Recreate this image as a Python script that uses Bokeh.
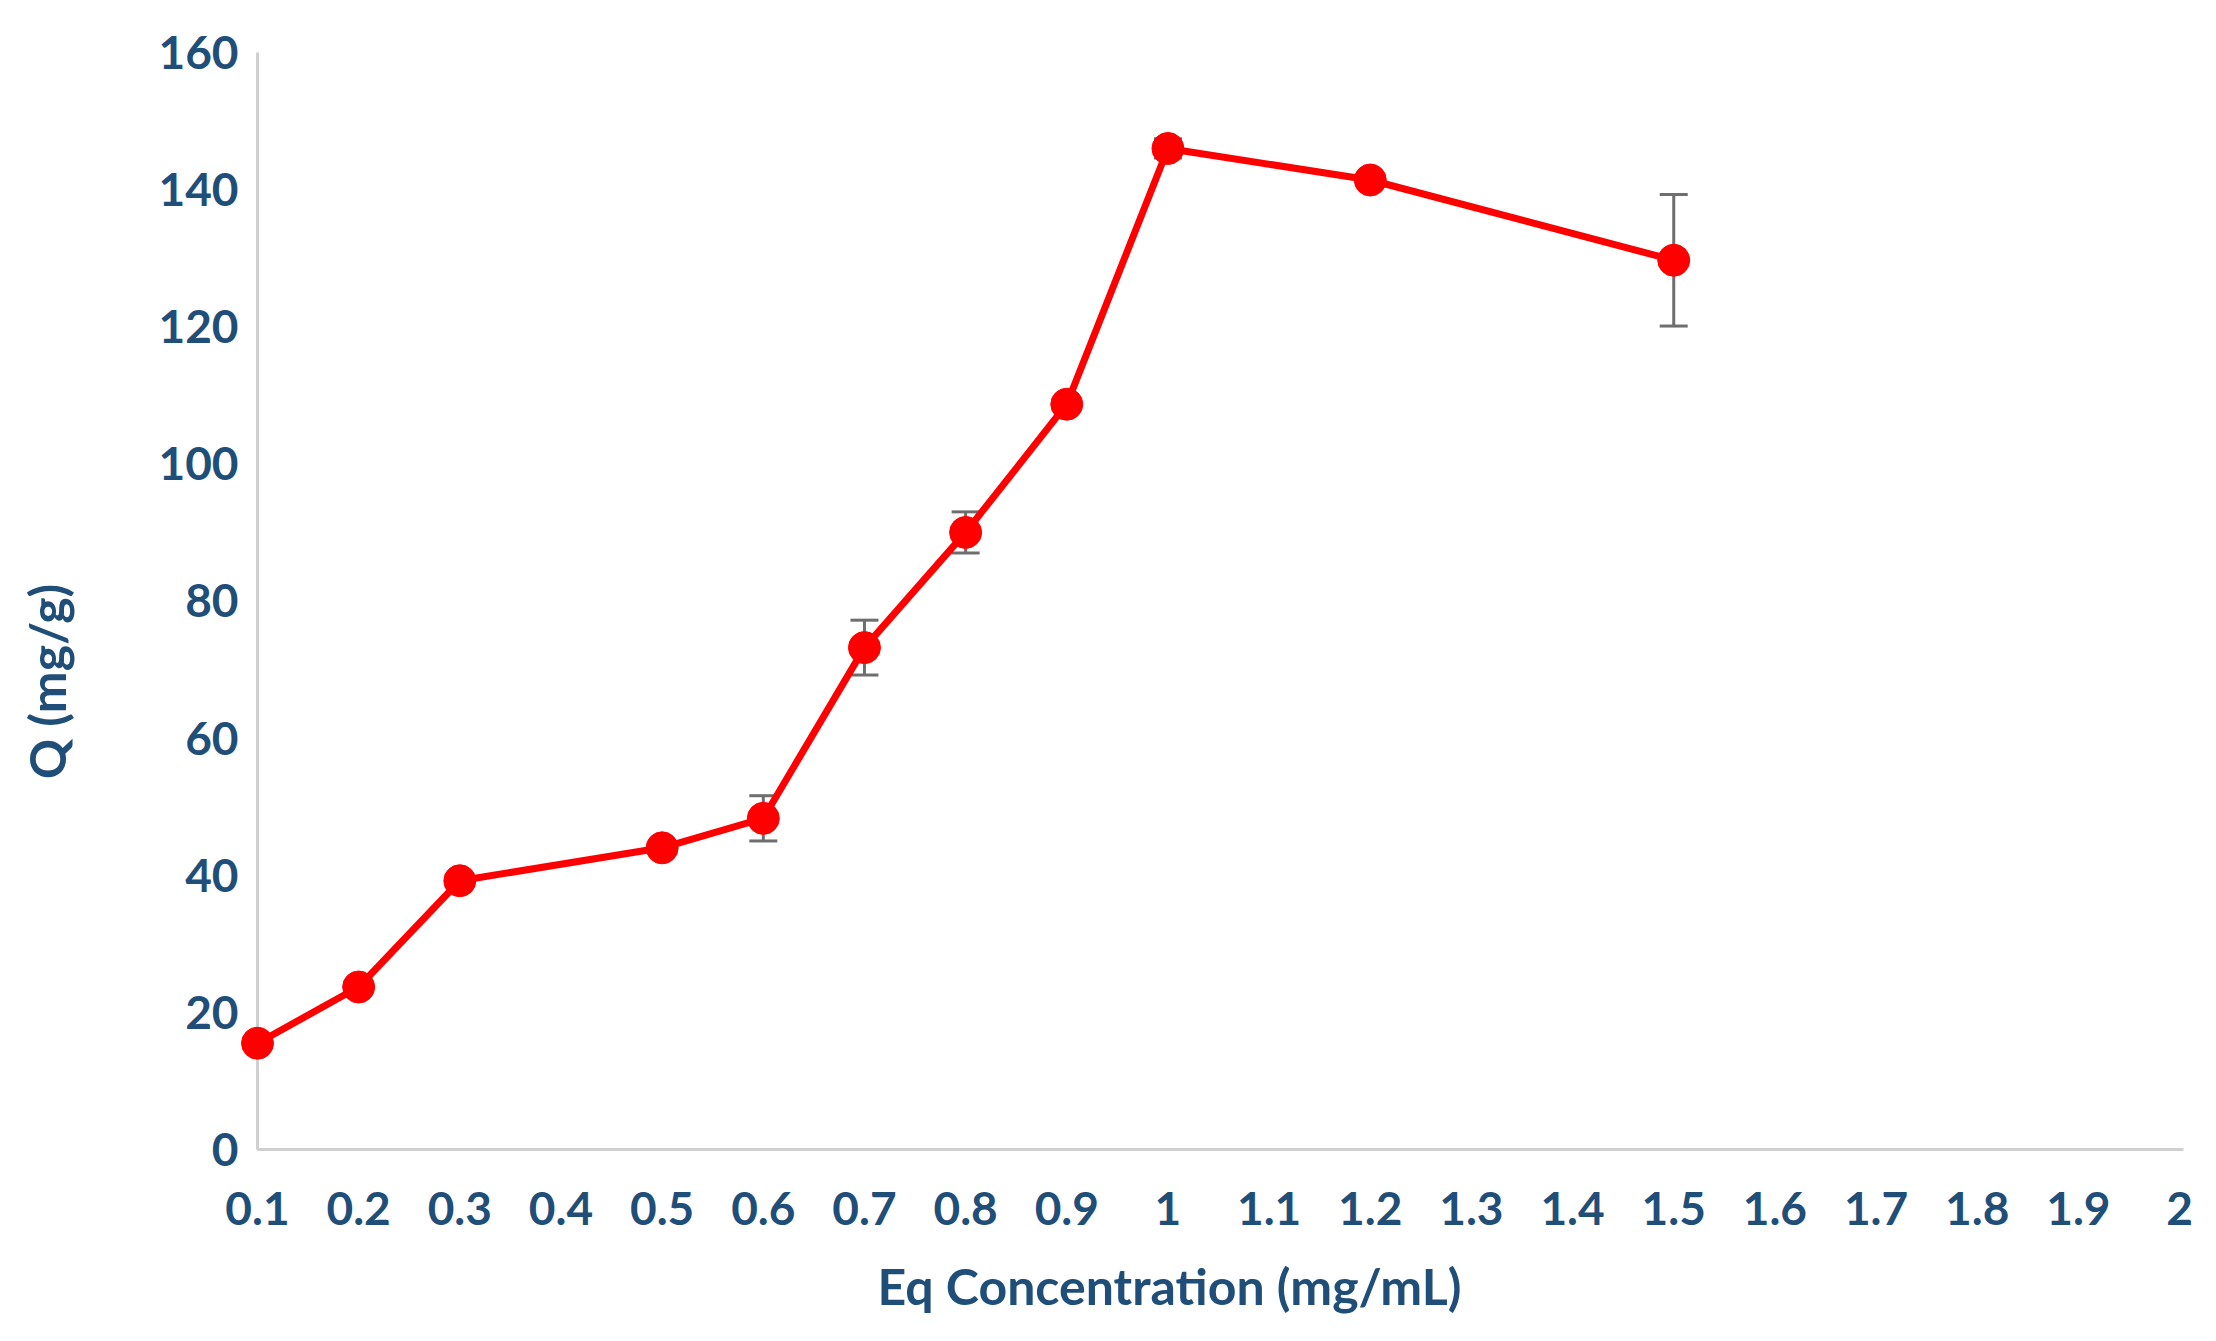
from bokeh.plotting import figure
from bokeh.models import (ColumnDataSource, Whisker, TeeHead, Label,
                          FixedTicker, Range1d)
from bokeh.embed import file_html
from bokeh.resources import INLINE

# ---- data ----
conc = [0.1, 0.2, 0.3, 0.5, 0.6, 0.7, 0.8, 0.9, 1.0, 1.2, 1.5]
q = [15.5, 23.7, 39.2, 44.0, 48.3, 73.2, 90.0, 108.7, 146.0, 141.4, 129.7]
q_err = [0.6, 1.0, 1.0, 1.0, 3.3, 4.0, 3.0, 1.0, 1.4, 1.0, 9.6]

x_ticks = [0.1, 0.2, 0.3, 0.4, 0.5, 0.6, 0.7, 0.8, 0.9, 1.0,
           1.1, 1.2, 1.3, 1.4, 1.5, 1.6, 1.7, 1.8, 1.9, 2.0]
x_tick_labels = ["0.1", "0.2", "0.3", "0.4", "0.5", "0.6", "0.7", "0.8", "0.9", "1",
                 "1.1", "1.2", "1.3", "1.4", "1.5", "1.6", "1.7", "1.8", "1.9", "2"]
y_ticks = [0, 20, 40, 60, 80, 100, 120, 140, 160]

x_title = "Eq Concentration (mg/mL)"
y_title = "Q (mg/g)"

TEXT = "#1f4e79"
FONT = "Lato"
AXIS_GREY = "#d0d0d0"
ERR_GREY = "#6e6e6e"

src = ColumnDataSource(dict(
    x=conc, y=q,
    upper=[a + b for a, b in zip(q, q_err)],
    lower=[a - b for a, b in zip(q, q_err)],
))

# the frame fills the whole canvas; axes are pinned at x=0.1 and y=0
p = figure(width=2200, height=1325, output_backend="svg", toolbar_location=None,
           x_range=Range1d(-0.15405, 2.02072), y_range=Range1d(-25.67, 167.58),
           min_border=0)
p.outline_line_color = None
p.xgrid.visible = False
p.ygrid.visible = False
p.background_fill_color = "white"

# x axis
xa = p.xaxis[0]
xa.fixed_location = 0
xa.level = "underlay"
xa.ticker = FixedTicker(ticks=x_ticks)
xa.major_label_overrides = dict(zip(x_ticks, x_tick_labels))
xa.bounds = (0.1, 2.0039)
xa.axis_line_color = AXIS_GREY
xa.axis_line_width = 3
xa.major_tick_line_color = None
xa.minor_tick_line_color = None
xa.major_tick_out = 0
xa.major_tick_in = 0
xa.major_label_standoff = 43
xa.major_label_text_font = FONT
xa.major_label_text_font_style = "bold"
xa.major_label_text_font_size = "46px"
xa.major_label_text_color = TEXT

# y axis
ya = p.yaxis[0]
ya.fixed_location = 0.1
ya.level = "underlay"
ya.ticker = FixedTicker(ticks=y_ticks)
ya.bounds = (0, 160)
ya.axis_line_color = AXIS_GREY
ya.axis_line_width = 3
ya.major_tick_line_color = None
ya.minor_tick_line_color = None
ya.major_tick_out = 0
ya.major_tick_in = 0
ya.major_label_standoff = 19
ya.major_label_text_font = FONT
ya.major_label_text_font_style = "bold"
ya.major_label_text_font_size = "46px"
ya.major_label_text_color = TEXT

# error bars
p.add_layout(Whisker(source=src, base="x", upper="upper", lower="lower",
                     line_color=ERR_GREY, line_width=3, level="underlay",
                     upper_head=TeeHead(size=28, line_color=ERR_GREY, line_width=3),
                     lower_head=TeeHead(size=28, line_color=ERR_GREY, line_width=3)))

# series
p.line("x", "y", source=src, line_color="#ff0000", line_width=7)
p.scatter("x", "y", source=src, size=32, fill_color="#ff0000", line_color="#ff0000")

# axis titles
p.add_layout(Label(x=1.0015, y=-19.98, text=x_title, text_align="center",
                   text_baseline="middle", text_font=FONT, text_font_style="bold",
                   text_font_size="50px", text_color=TEXT))
p.add_layout(Label(x=-0.1076, y=68.26, text=y_title, angle=1.5708,
                   text_align="center", text_baseline="middle", text_font=FONT,
                   text_font_style="bold", text_font_size="50px", text_color=TEXT))

open("out.html", "w").write(file_html(p, INLINE))
